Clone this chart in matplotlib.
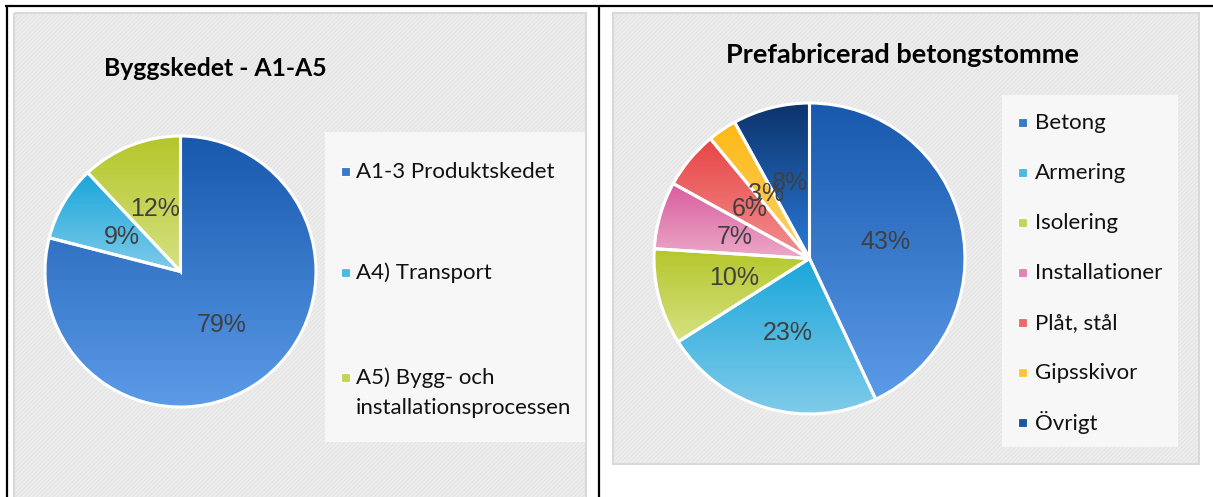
import numpy as np
import matplotlib
matplotlib.use('Agg')
import matplotlib.pyplot as plt
from matplotlib.colors import LinearSegmentedColormap, to_rgb
from matplotlib.patches import Rectangle

# chart data
left_title = 'Byggskedet - A1-A5'
left_labels = ['A1-3 Produktskedet', 'A4) Transport', 'A5) Bygg- och\ninstallationsprocessen']
left_values = [79, 9, 12]

right_title = 'Prefabricerad betongstomme'
right_labels = ['Betong', 'Armering', 'Isolering', 'Installationer', 'Plåt, stål', 'Gipsskivor', 'Övrigt']
right_values = [43, 23, 10, 7, 6, 3, 8]

# gradient colours per slice (top, bottom)
blue = ('#1858ad', '#5b9be8')
lightblue = ('#1aa6da', '#80cbea')
green = ('#b4c62a', '#d6e283')
pink = ('#d95c9e', '#eca8c8')
red = ('#e84545', '#f29090')
yellow = ('#fdb813', '#fdd36a')
navy = ('#0c336b', '#2a7ad9')
left_colors = [blue, lightblue, green]
right_colors = [blue, lightblue, green, pink, red, yellow, navy]

W, H = 1213, 497
fig = plt.figure(figsize=(W / 100, H / 100), dpi=100)
fig.patch.set_facecolor('white')

# full-figure axes working in pixel coords (y down)
bg = fig.add_axes([0, 0, 1, 1], zorder=0)
bg.set_xlim(0, W)
bg.set_ylim(H, 0)
bg.axis('off')


def chart_box(x0, y0, x1, y1):
    bg.add_patch(Rectangle((x0, y0), x1 - x0, y1 - y0, facecolor='#eeeeee',
                           edgecolor='#e5e5e5', linewidth=0, hatch='////////'))
    bg.add_patch(Rectangle((x0, y0), x1 - x0, y1 - y0, facecolor='none',
                           edgecolor='#d9d9d9', linewidth=1.5))


def legend_box(x0, y0, x1, y1):
    bg.add_patch(Rectangle((x0, y0), x1 - x0, y1 - y0, facecolor='#f7f7f7',
                           edgecolor='none'))


def mid(c):
    return (np.array(to_rgb(c[0])) + np.array(to_rgb(c[1]))) / 2


chart_box(14, 13, 586, 500)
chart_box(613, 13, 1199, 464)
legend_box(325, 132, 585, 442)
legend_box(1002, 95, 1178, 447)

# table borders
bg.plot([5, W], [6, 6], color='black', lw=1.6, solid_capstyle='butt')
bg.plot([7, 7], [5, H], color='black', lw=1.6, solid_capstyle='butt')
bg.plot([599, 599], [5, H], color='black', lw=1.6, solid_capstyle='butt')

title_font = dict(family=['Lato', 'DejaVu Sans'], fontweight='bold', color='black')
bg.text(215.5, 76, left_title, ha='center', va='baseline', fontsize=17.8, **title_font)
bg.text(902, 63, right_title, ha='center', va='baseline', fontsize=19.5, **title_font)

leg_font = dict(family=['Lato', 'DejaVu Sans'], fontsize=16, color='#111111')

# left legend
left_rows = [171, 272, 377]
for lab, col, y in zip(left_labels, left_colors, left_rows):
    bg.add_patch(Rectangle((340.5, y - 4.5), 9, 9, facecolor=mid(col), edgecolor='white', lw=0.8))
    for k, ln in enumerate(lab.split('\n')):
        bg.text(356, y + 1 + 30 * k, ln, ha='left', va='center', **leg_font)

# right legend
for i, (lab, col) in enumerate(zip(right_labels, right_colors)):
    y = 122 + 50 * i
    bg.add_patch(Rectangle((1017.5, y - 4.5), 9, 9, facecolor=mid(col), edgecolor='white', lw=0.8))
    bg.text(1035, y + 1, lab, ha='left', va='center', **leg_font)


def gradient_pie(cx, cy, r, values, colors):
    ax = fig.add_axes([(cx - r) / W, 1 - (cy + r) / H, 2 * r / W, 2 * r / H], zorder=1)
    wedges, texts, autotexts = ax.pie(values, startangle=90, counterclock=False,
                                      autopct='%1.0f%%', pctdistance=0.5,
                                      wedgeprops=dict(edgecolor='white', linewidth=2.2),
                                      textprops=dict(family=['Liberation Sans', 'DejaVu Sans'],
                                                     fontsize=18, color='#404040'))
    grad = np.linspace(0, 1, 256).reshape(-1, 1)
    for w, c in zip(wedges, colors):
        ext = w.get_path().get_extents()
        cmap = LinearSegmentedColormap.from_list('g', [c[0], c[1]])
        im = ax.imshow(grad, cmap=cmap, extent=[ext.x0, ext.x1, ext.y0, ext.y1],
                       origin='upper', aspect='auto', zorder=1, interpolation='bilinear')
        im.set_clip_path(w)
        w.set_facecolor('none')
        w.set_zorder(2)
    for t in autotexts:
        t.set_zorder(3)
    ax.set_xlim(-1.02, 1.02)
    ax.set_ylim(-1.02, 1.02)
    ax.set_aspect('auto')
    ax.axis('off')
    return ax


gradient_pie(180.5, 271.5, 135.5 * 1.02, left_values, left_colors)
gradient_pie(809.5, 258.5, 155.5 * 1.02, right_values, right_colors)

fig.savefig('out.png', dpi=100)
